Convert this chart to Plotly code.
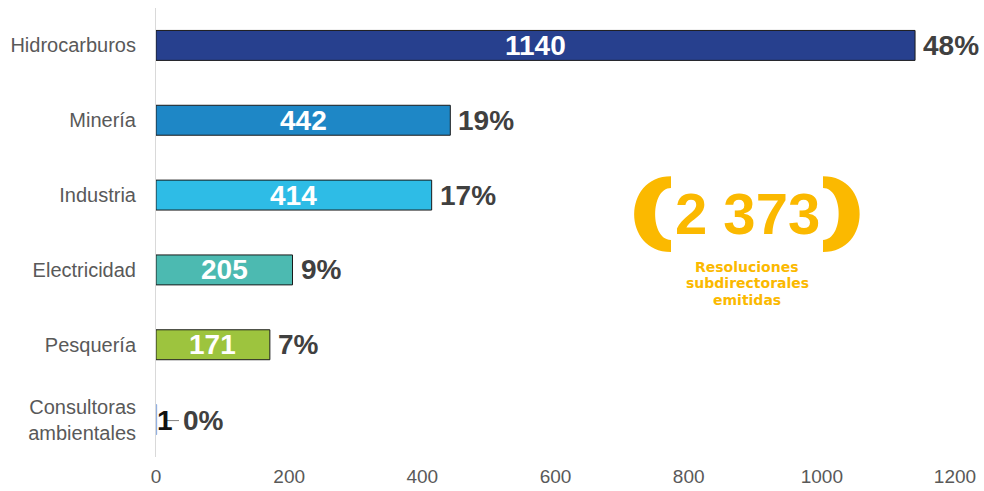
import plotly.graph_objects as go

categories = ["Hidrocarburos", "Minería", "Industria", "Electricidad", "Pesquería", "Consultoras<br>ambientales"]
values = [1140, 442, 414, 205, 171, 1]
colors = ["#27408E", "#1E87C6", "#2EBCE6", "#4CBAB1", "#9DC43E", "#9DB6E2"]
outline_colors = ["#1a1a1a", "#1a1a1a", "#1a1a1a", "#1a1a1a", "#1a1a1a", "#8FAEE0"]
x_ticks = [0, 200, 400, 600, 800, 1000, 1200]
total_label = "2 373"
total_caption = ["Resoluciones", "subdirectorales", "emitidas"]

total = sum(values)
pcts = [f"{round(v / total * 100)}%" for v in values]

L, R, T, B = 156, 29, 7.5, 33.5
W, H = 984, 491
pw, ph = W - L - R, H - T - B
xr = [0, 1200]


def px(xp):
    return (xp - L) / pw


def py(yp):
    return (H - B - yp) / ph


fig = go.Figure()
fig.add_trace(go.Bar(
    y=categories, x=values, orientation="h",
    marker=dict(color=colors, line=dict(color=outline_colors, width=1)),
    width=0.4, hoverinfo="skip",
))

ann = []
for c, v, p in zip(categories, values, pcts):
    if v > 50:
        ann.append(dict(x=v / 2, y=c, text=f"<b>{v}</b>", showarrow=False,
                        font=dict(size=28, color="white", family="Arial")))
        ann.append(dict(x=v, y=c, text=f"<b>{p}</b>", showarrow=False, xanchor="left",
                        xshift=6, font=dict(size=28, color="#404040", family="Arial")))
    else:
        ann.append(dict(x=v, y=c, text=f"<b>{v}</b>", showarrow=False, xanchor="left",
                        xshift=-2, yshift=-1, font=dict(size=28, color="#111", family="Arial")))
        ann.append(dict(x=v, y=c, text=f"<b>{p}</b>", showarrow=False, xanchor="left",
                        xshift=24, yshift=-1, font=dict(size=28, color="#404040", family="Arial")))

yellow = "#FBB900"
cx = 747
ann.append(dict(xref="paper", yref="paper", x=px(cx), y=py(213), xanchor="center", yanchor="middle",
                text=f"<b>{total_label}</b>", showarrow=False,
                font=dict(size=58, color=yellow, family="Arial")))
for i, line in enumerate(total_caption):
    ann.append(dict(xref="paper", yref="paper", x=px(cx), y=py(267 + 16.5 * i), xanchor="center",
                    yanchor="middle", text=f"<b>{line}</b>", showarrow=False,
                    font=dict(size=14, color=yellow, family="DejaVu Sans")))

# leader line for the tiny bar
shapes = [dict(type="line", xref="paper", yref="paper", x0=px(166), x1=px(179), y0=py(421), y1=py(421),
               line=dict(color="#7f7f7f", width=1))]


def bracket(x_outer, x_flat, x_inner, top, bot, itop, ibot):
    return (f"M {px(x_flat)},{py(top)} "
            f"C {px(x_outer)},{py(top)} {px(x_outer)},{py(bot)} {px(x_flat)},{py(bot)} "
            f"L {px(x_flat)},{py(ibot)} "
            f"C {px(x_inner)},{py(ibot)} {px(x_inner)},{py(itop)} {px(x_flat)},{py(itop)} Z")


shapes.append(dict(type="path", xref="paper", yref="paper",
                   path=bracket(622, 671, 650, 176, 252, 188, 240),
                   fillcolor=yellow, line=dict(width=0)))
shapes.append(dict(type="path", xref="paper", yref="paper",
                   path=bracket(872, 823, 844, 176, 252, 188, 240),
                   fillcolor=yellow, line=dict(width=0)))

fig.update_layout(
    width=W, height=H,
    margin=dict(l=L, r=R, t=T, b=B, autoexpand=False),
    paper_bgcolor="white", plot_bgcolor="white",
    showlegend=False,
    annotations=ann, shapes=shapes,
    xaxis=dict(range=xr, tickvals=x_ticks, showgrid=False, zeroline=False, showline=False,
               ticks="", ticklabelstandoff=6,
               tickfont=dict(size=19, color="#595959", family="Arial")),
    yaxis=dict(autorange="reversed", showgrid=False, zeroline=False, showline=True,
               linecolor="#d9d9d9", linewidth=1, ticks="", ticklabelstandoff=15,
               tickfont=dict(size=20, color="#595959", family="Arial")),
)

fig.write_html("out.html", config={"displayModeBar": False},
               post_script="document.body.style.margin='0px';")
